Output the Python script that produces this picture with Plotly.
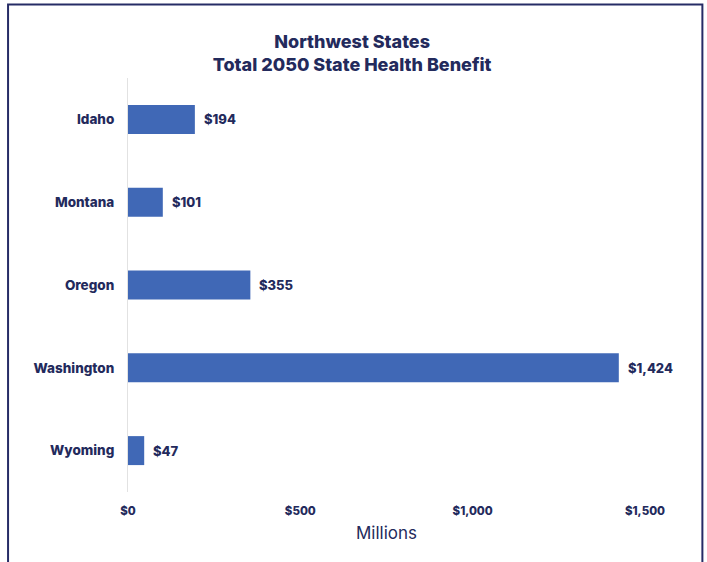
import plotly.graph_objects as go

states = ["Idaho", "Montana", "Oregon", "Washington", "Wyoming"]
benefit = [194, 101, 355, 1424, 47]
tick_vals = [0, 500, 1000, 1500]
tick_text = ["$0", "$500", "$1,000", "$1,500"]
value_labels = ["$194", "$101", "$355", "$1,424", "$47"]

NAVY = "#232a5c"
BAR = "#4068b6"
FONT = "Inter"

fig = go.Figure()
fig.add_trace(go.Bar(
    y=states, x=benefit, orientation="h",
    marker=dict(color=BAR, line=dict(width=0)),
    width=0.35, hoverinfo="skip",
))

for s, v, t in zip(states, benefit, value_labels):
    fig.add_annotation(x=v, y=s, text=t, showarrow=False,
                       xanchor="left", xshift=7,
                       font=dict(family=FONT, size=13, color=NAVY, weight=800))

fig.update_layout(
    width=707, height=562,
    margin=dict(l=128, r=62, t=78, b=70),
    paper_bgcolor="white", plot_bgcolor="white",
    showlegend=False,
    title=dict(text="Northwest States<br>Total 2050 State Health Benefit",
               x=0.498, xanchor="center", y=0.915, yanchor="middle",
               font=dict(family=FONT, size=18, color=NAVY, weight=800)),
    xaxis=dict(range=[0, 1500], tickvals=tick_vals, ticktext=tick_text,
               showgrid=False, zeroline=False, showline=False,
               tickfont=dict(family=FONT, size=11.5, color=NAVY, weight=800),
               ticklabelstandoff=10,
               title=dict(text="Millions", standoff=10,
                          font=dict(family=FONT, size=17, color=NAVY))),
    yaxis=dict(autorange="reversed", showgrid=False, zeroline=False,
               showline=True, linecolor="#e2e2e2", linewidth=1,
               tickfont=dict(family=FONT, size=13.5, color=NAVY, weight=800),
               ticklabelstandoff=10),
    shapes=[dict(type="path", xref="paper", yref="paper",
                 path="M -0.232,-0.2 L -0.232,1.1775 L 1.111,1.1775 L 1.111,-0.2",
                 line=dict(color="#262c66", width=2))],
)

fig.write_html("out.html", config={"displayModeBar": False},
               post_script="document.body.style.margin='0';")
